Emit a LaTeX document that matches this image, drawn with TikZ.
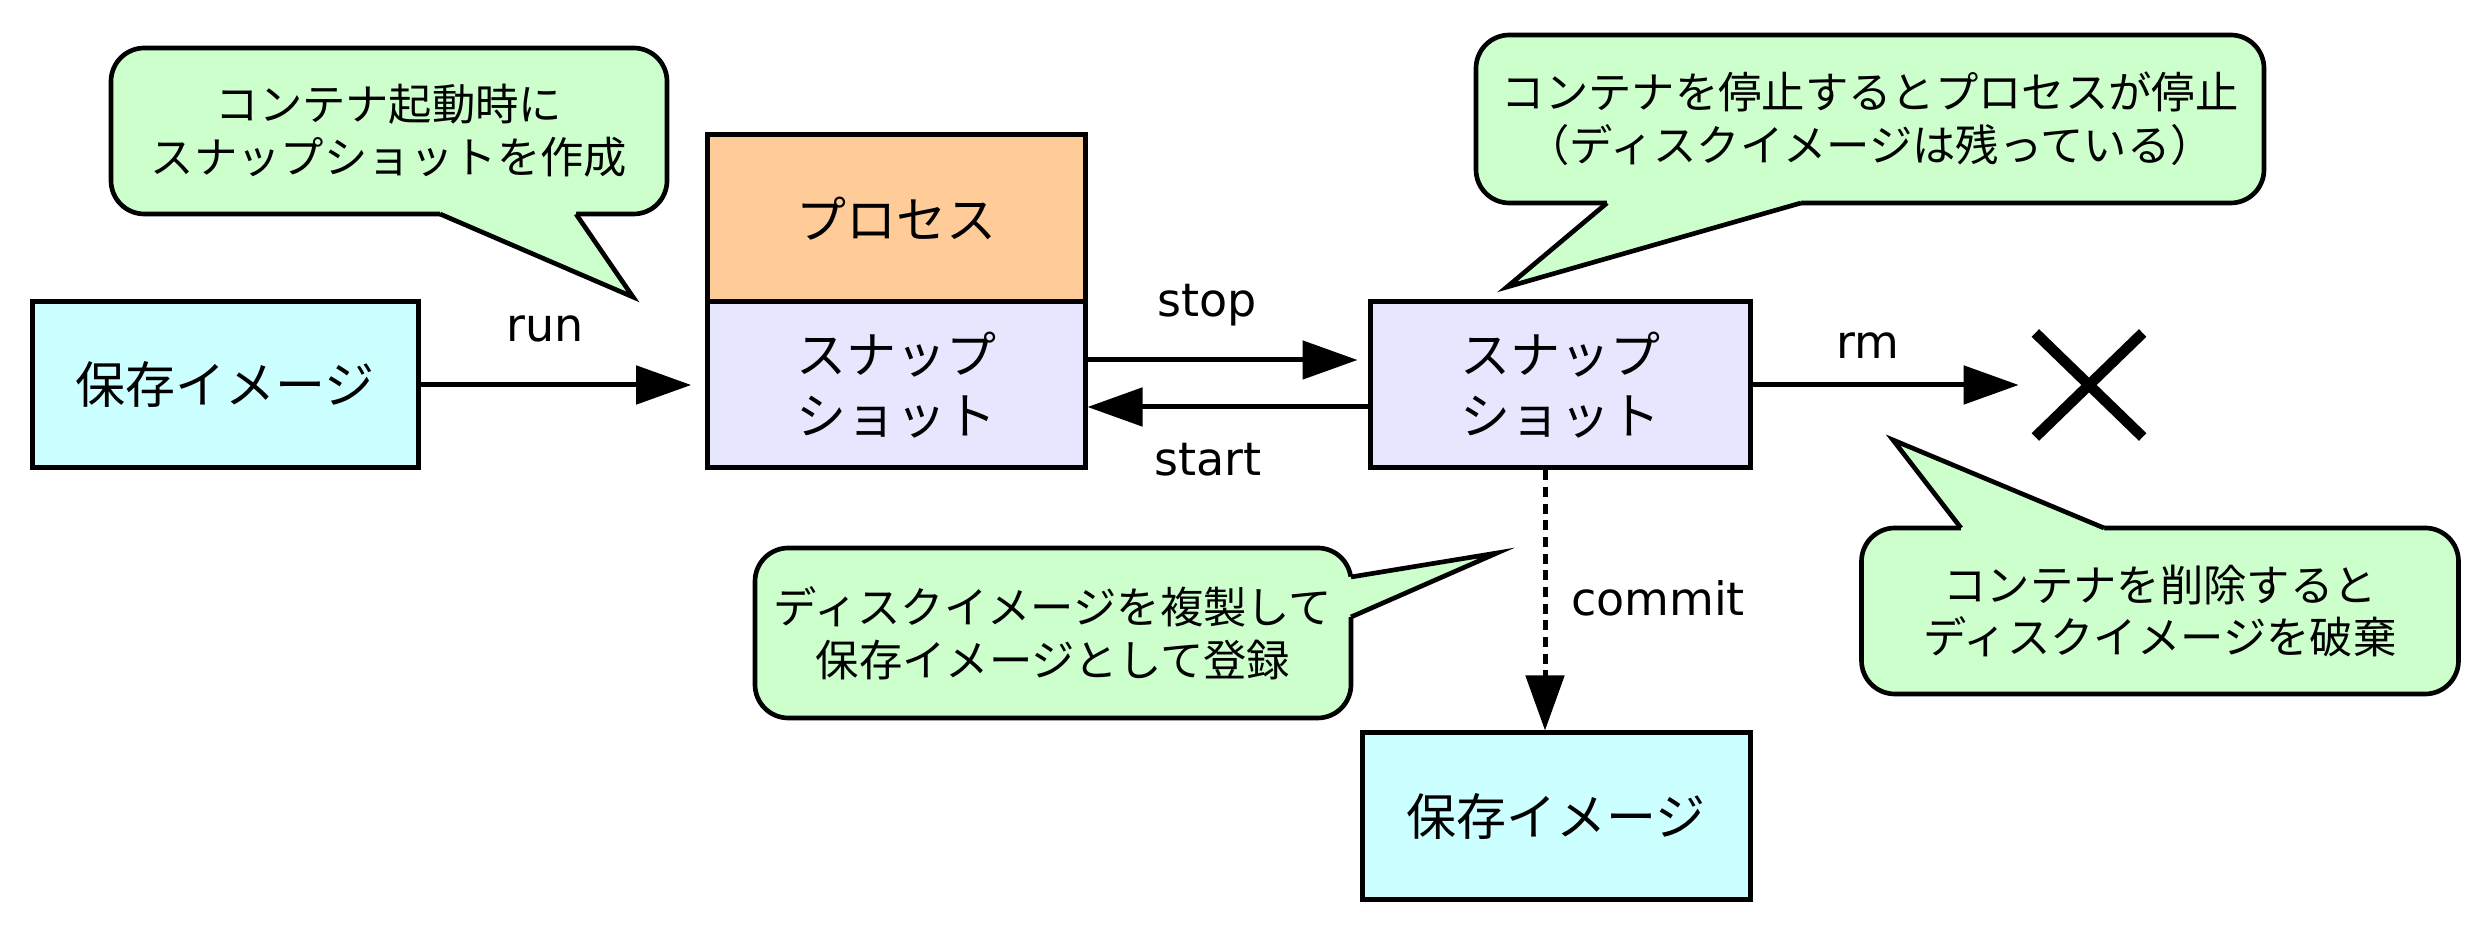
\documentclass[tikz,border=0pt]{standalone}
\usepackage{fontspec}
\setmainfont{DejaVu Sans}
\newfontfamily\jpfont{Noto Sans CJK JP}
\usetikzlibrary{shapes.misc,arrows.meta,calc}
\definecolor{imgcyan}{RGB}{204,255,255}
\definecolor{procorange}{RGB}{255,204,153}
\definecolor{snaplilac}{RGB}{230,230,255}
\definecolor{notegreen}{RGB}{204,255,204}
\tikzset{
  box/.style={draw, line width=1.5pt, align=center, inner sep=0pt, font=\jpfont\fontsize{15}{18.3}\selectfont},
  note/.style={rectangle, draw, fill=notegreen, line width=1.4pt, rounded corners=10pt, outer sep=0pt, align=center, inner sep=0pt, font=\jpfont\fontsize{13}{15.8}\selectfont},
  tipline/.style={line width=1.4pt, line join=miter},
  lbl/.style={font=\fontsize{13.8}{16}\selectfont, inner sep=0pt},
  flow/.style={line width=1.5pt, -{Triangle[length=16.5pt,width=11.4pt]}}
}

\begin{document}
\begin{tikzpicture}[x=0.3pt,y=0.3pt,yscale=-1,xscale=1]
\useasboundingbox (0,0) rectangle (2490,936);

%Boxes
\node[box, fill=imgcyan, minimum width=115.8pt, minimum height=49.8pt] (imgL) at (225,385) {保存イメージ};
\node[box, fill=procorange, minimum width=113.4pt, minimum height=50.1pt] (proc) at (896,218.5) {プロセス};
\node[box, fill=snaplilac, minimum width=113.4pt, minimum height=49.8pt] (snap1) at (896,385) {スナップ\\ショット};
\node[box, fill=snaplilac, minimum width=114pt, minimum height=49.8pt] (snap2) at (1560,385) {スナップ\\ショット};
\node[box, fill=imgcyan, minimum width=116.4pt, minimum height=50.1pt] (imgB) at (1556,816.5) {保存イメージ};
%Deleted mark
\node[draw, cross out, line width=3.2pt, minimum width=29pt, minimum height=28pt] (gone) at (2089,385) {};

%Callout: run
\node[note, minimum width=166.8pt, minimum height=49.8pt] (noteRun) at (389,131) {コンテナ起動時に\\スナップショットを作成};
\coordinate (runTip) at (633,297);
\fill[notegreen] ($(noteRun.south)+(51,0)$) -- (runTip) -- ($(noteRun.south)+(187,0)$) -- ($(noteRun.south)+(187,-8)$) -- ($(noteRun.south)+(51,-8)$) -- cycle;
\draw[tipline] ($(noteRun.south)+(51,0)$) -- (runTip) -- ($(noteRun.south)+(187,0)$);
%Callout: stop
\node[note, minimum width=236.4pt, minimum height=50.4pt] (noteStop) at (1870,119) {コンテナを停止するとプロセスが停止\\（ディスクイメージは残っている）};
\coordinate (stopTip) at (1507,287);
\fill[notegreen] ($(noteStop.south)+(-263,0)$) -- (stopTip) -- ($(noteStop.south)+(-69,0)$) -- ($(noteStop.south)+(-69,-8)$) -- ($(noteStop.south)+(-263,-8)$) -- cycle;
\draw[tipline] ($(noteStop.south)+(-263,0)$) -- (stopTip) -- ($(noteStop.south)+(-69,0)$);
%Callout: commit
\node[note, minimum width=178.8pt, minimum height=51pt] (noteCommit) at (1053,633) {ディスクイメージを複製して\\保存イメージとして登録};
\coordinate (commitTip) at (1497,553);
\fill[notegreen] ($(noteCommit.east)+(0,-56)$) -- (commitTip) -- ($(noteCommit.east)+(0,-16)$) -- ($(noteCommit.east)+(-8,-16)$) -- ($(noteCommit.east)+(-8,-56)$) -- cycle;
\draw[tipline] ($(noteCommit.east)+(0,-56)$) -- (commitTip) -- ($(noteCommit.east)+(0,-16)$);
%Callout: rm
\node[note, minimum width=179.1pt, minimum height=49.8pt] (noteRm) at (2160,611) {コンテナを削除すると\\ディスクイメージを破棄};
\coordinate (rmTip) at (1893,440);
\fill[notegreen] ($(noteRm.north)+(-199,0)$) -- (rmTip) -- ($(noteRm.north)+(-56,0)$) -- ($(noteRm.north)+(-56,8)$) -- ($(noteRm.north)+(-199,8)$) -- cycle;
\draw[tipline] ($(noteRm.north)+(-199,0)$) -- (rmTip) -- ($(noteRm.north)+(-56,0)$);

%Arrows
\draw[flow, shorten >=4pt] (imgL.east) -- (snap1.west);
\draw[flow, shorten >=3pt] ($(snap1.east)+(0,-25)$) -- ($(snap2.west)+(0,-25)$);
\draw[flow] ($(snap2.west)+(0,22)$) -- ($(snap1.east)+(0,22)$);
\draw[flow, shorten >=5pt] (snap2.east) -- (gone.west);
\draw[flow, dash pattern=on 3pt off 2pt] ($(snap2.south)+(-15,0)$) -- ($(imgB.north)+(-11,0)$);

%Arrow labels
\node[lbl] (runLbl) at (545,329) {run};
\node[lbl] (stopLbl) at (1207,305) {stop};
\node[lbl] (startLbl) at (1208,460) {start};
\node[lbl] (rmLbl) at (1868,346) {rm};
\node[lbl] (commitLbl) at (1658,598) {commit};

\end{tikzpicture}
\end{document}
